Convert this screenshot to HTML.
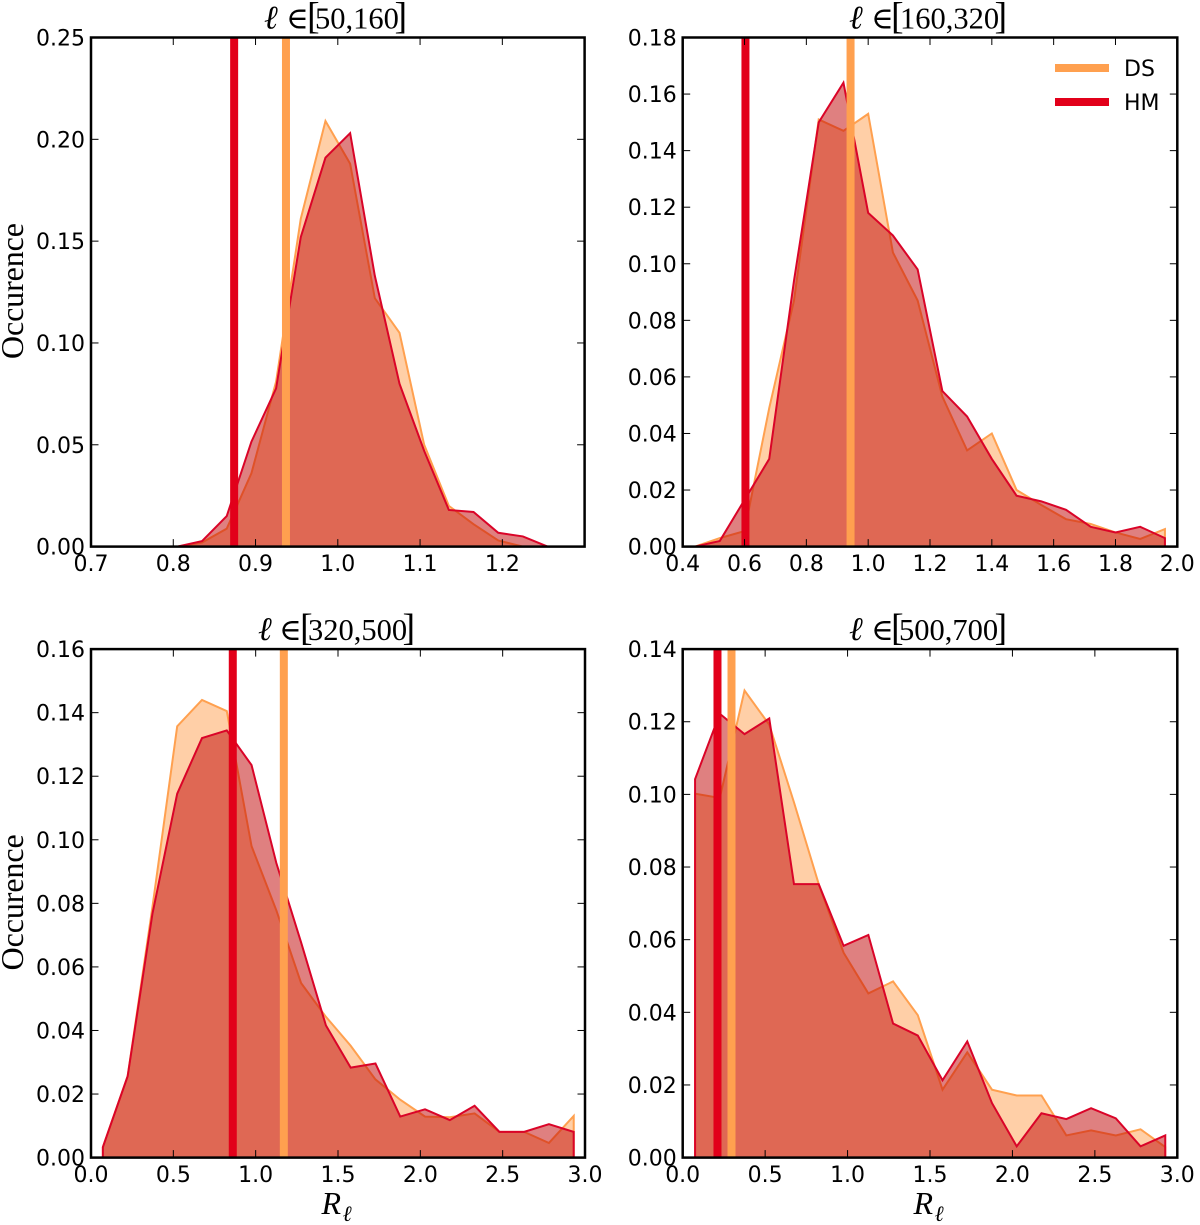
<!DOCTYPE html>
<html>
<head>
<meta charset="utf-8">
<title>Occurence of R by multipole range</title>
<style>
html,body{margin:0;padding:0;background:#fff;}
#figure{display:block;position:absolute;left:0;top:0;}
.tick-label{font-family:"DejaVu Sans","Liberation Sans",sans-serif;font-size:22px;fill:#000;}
.serif{font-family:"Liberation Serif","DejaVu Serif",serif;fill:#000;}
</style>
</head>
<body>
<svg id="figure" xmlns="http://www.w3.org/2000/svg" width="1200" height="1225" viewBox="0 0 1200 1225"></svg>
<script>
// Panel 1: l in [50,160]
const panel1Bins = [0.805,0.835,0.865,0.895,0.925,0.955,0.985,1.015,1.045,1.075,1.105,1.135,1.165,1.195,1.225,1.255];
const panel1DS = [0,0.002,0.0088,0.036,0.081,0.161,0.209,0.188,0.122,0.105,0.050,0.020,0.011,0.003,0,0];
const panel1HM = [0,0.0027,0.015,0.0515,0.0777,0.152,0.191,0.203,0.133,0.080,0.047,0.018,0.017,0.0068,0.005,0];
const panel1XTicks = [0.7,0.8,0.9,1.0,1.1,1.2];
const panel1XLabels = ["0.7","0.8","0.9","1.0","1.1","1.2"];
const panel1YTicks = [0,0.05,0.10,0.15,0.20,0.25];
const panel1YLabels = ["0.00","0.05","0.10","0.15","0.20","0.25"];
const panel1MeanDS = 0.937;
const panel1MeanHM = 0.874;

// Panel 2: l in [160,320]
const panel2Bins = [0.44,0.52,0.60,0.68,0.76,0.84,0.92,1.00,1.08,1.16,1.24,1.32,1.40,1.48,1.56,1.64,1.72,1.80,1.88,1.96];
const panel2DS = [0,0.003,0.0055,0.049,0.087,0.151,0.147,0.153,0.104,0.087,0.053,0.034,0.040,0.020,0.0147,0.0097,0.008,0.005,0.0027,0.0062];
const panel2HM = [0,0.002,0.0165,0.031,0.094,0.150,0.164,0.118,0.110,0.098,0.055,0.046,0.031,0.018,0.016,0.013,0.007,0.005,0.007,0.003];
const panel2XTicks = [0.4,0.6,0.8,1.0,1.2,1.4,1.6,1.8,2.0];
const panel2XLabels = ["0.4","0.6","0.8","1.0","1.2","1.4","1.6","1.8","2.0"];
const panel2YTicks = [0,0.02,0.04,0.06,0.08,0.10,0.12,0.14,0.16,0.18];
const panel2YLabels = ["0.00","0.02","0.04","0.06","0.08","0.10","0.12","0.14","0.16","0.18"];
const panel2MeanDS = 0.943;
const panel2MeanHM = 0.603;

// Panel 3: l in [320,500]
const panel3Bins = [0.072,0.2225,0.373,0.5235,0.674,0.8245,0.975,1.1255,1.276,1.4265,1.577,1.7275,1.878,2.0285,2.179,2.3295,2.48,2.6305,2.781,2.9315];
const panel3DS = [0.0033,0.0256,0.0788,0.1357,0.144,0.1405,0.098,0.0778,0.0549,0.0443,0.0352,0.0246,0.0182,0.0129,0.0127,0.0139,0.0081,0.0081,0.0046,0.0131];
const panel3HM = [0.0033,0.0256,0.0767,0.1145,0.132,0.1344,0.1235,0.0927,0.0677,0.0416,0.0283,0.0296,0.0129,0.0152,0.0118,0.0163,0.0081,0.0081,0.0105,0.0081];
const panel3XTicks = [0,0.5,1.0,1.5,2.0,2.5,3.0];
const panel3XLabels = ["0.0","0.5","1.0","1.5","2.0","2.5","3.0"];
const panel3YTicks = [0,0.02,0.04,0.06,0.08,0.10,0.12,0.14,0.16];
const panel3YLabels = ["0.00","0.02","0.04","0.06","0.08","0.10","0.12","0.14","0.16"];
const panel3MeanDS = 1.171;
const panel3MeanHM = 0.861;

// Panel 4: l in [500,700]
const panel4Bins = [0.075,0.225,0.375,0.525,0.675,0.825,0.976,1.126,1.276,1.426,1.576,1.726,1.876,2.026,2.176,2.327,2.477,2.627,2.777,2.927];
const panel4DS = [0.1002,0.099,0.1286,0.1192,0.0978,0.0753,0.0564,0.0452,0.0485,0.0392,0.0187,0.029,0.0187,0.0171,0.0171,0.0061,0.0075,0.0061,0.0078,0.0029];
const panel4HM = [0.1042,0.1222,0.1166,0.1209,0.0753,0.0753,0.0583,0.0613,0.0369,0.0336,0.0213,0.032,0.015,0.0031,0.0122,0.0106,0.0136,0.0108,0.0031,0.0061];
const panel4XTicks = [0,0.5,1.0,1.5,2.0,2.5,3.0];
const panel4XLabels = ["0.0","0.5","1.0","1.5","2.0","2.5","3.0"];
const panel4YTicks = [0,0.02,0.04,0.06,0.08,0.10,0.12,0.14];
const panel4YLabels = ["0.00","0.02","0.04","0.06","0.08","0.10","0.12","0.14"];
const panel4MeanDS = 0.296;
const panel4MeanHM = 0.211;

const legendNames = ["DS","HM"];

const ORANGE = "#FFA04F";
const RED = "#E2001A";
const RED_EDGE = "#DA0428";
const NS = "http://www.w3.org/2000/svg";
const svg = document.getElementById("figure");

function make(tag, attrs, parent) {
  const el = document.createElementNS(NS, tag);
  for (const k in attrs) el.setAttribute(k, attrs[k]);
  parent.appendChild(el);
  return el;
}

const layouts = [
  {id:1, left:91, right:584.6, top:37.5, bottom:546.6, xMin:0.7, xMax:1.3, yMax:0.25, range:"50,160", tL:264, tIn:286, tB:307, tD:315, tR:394.5, bins:panel1Bins, ds:panel1DS, hm:panel1HM, xt:panel1XTicks, xl:panel1XLabels, yt:panel1YTicks, yl:panel1YLabels, mDS:panel1MeanDS, mHM:panel1MeanHM, ylabel:true, xlabel:false, legend:false},
  {id:2, left:682.7, right:1177.3, top:37.5, bottom:546.6, xMin:0.4, xMax:2.0, yMax:0.18, range:"160,320", tL:849, tIn:871, tB:891, tD:900, tR:994.5, bins:panel2Bins, ds:panel2DS, hm:panel2HM, xt:panel2XTicks, xl:panel2XLabels, yt:panel2YTicks, yl:panel2YLabels, mDS:panel2MeanDS, mHM:panel2MeanHM, ylabel:false, xlabel:false, legend:true},
  {id:3, left:91, right:585, top:649.1, bottom:1157.6, xMin:0, xMax:3, yMax:0.16, range:"320,500", tL:258, tIn:279, tB:300, tD:308, tR:402.5, bins:panel3Bins, ds:panel3DS, hm:panel3HM, xt:panel3XTicks, xl:panel3XLabels, yt:panel3YTicks, yl:panel3YLabels, mDS:panel3MeanDS, mHM:panel3MeanHM, ylabel:true, xlabel:true, legend:false},
  {id:4, left:682.7, right:1177.3, top:649.1, bottom:1157.6, xMin:0, xMax:3, yMax:0.14, range:"500,700", tL:849, tIn:871, tB:891, tD:899, tR:994.5, bins:panel4Bins, ds:panel4DS, hm:panel4HM, xt:panel4XTicks, xl:panel4XLabels, yt:panel4YTicks, yl:panel4YLabels, mDS:panel4MeanDS, mHM:panel4MeanHM, ylabel:false, xlabel:true, legend:false}
];

function areaPoints(bins, vals, sx, sy) {
  const pts = [[sx(bins[0]), sy(0)]];
  for (let i = 0; i < bins.length; i++) pts.push([sx(bins[i]), sy(vals[i])]);
  pts.push([sx(bins[bins.length - 1]), sy(0)]);
  return pts.map(function (p) { return p[0].toFixed(2) + "," + p[1].toFixed(2); }).join(" ");
}

layouts.forEach(function (p) {
  const sx = function (v) { return p.left + (v - p.xMin) / (p.xMax - p.xMin) * (p.right - p.left); };
  const sy = function (v) { return p.bottom - v / p.yMax * (p.bottom - p.top); };

  const g = make("g", {}, svg);
  
  

  const defs = make("defs", {}, g);
  const clip = make("clipPath", {id: "clip" + p.id}, defs);
  make("rect", {x: p.left, y: p.top, width: p.right - p.left, height: p.bottom - p.top}, clip);

  const plot = make("g", {"clip-path": "url(#clip" + p.id + ")"}, g);
  
  

  const dsArea = make("polygon", {points: areaPoints(p.bins, p.ds, sx, sy), fill: ORANGE, "fill-opacity": 0.5, stroke: ORANGE, "stroke-width": 2, "stroke-linejoin": "miter"}, plot);
  
  

  const hmArea = make("polygon", {points: areaPoints(p.bins, p.hm, sx, sy), fill: "#C00202", "fill-opacity": 0.5, stroke: RED_EDGE, "stroke-width": 2, "stroke-linejoin": "miter"}, plot);
  
  

  const dsMean = make("line", {x1: sx(p.mDS), x2: sx(p.mDS), y1: p.top, y2: p.bottom, stroke: ORANGE, "stroke-width": 8}, plot);
  
  

  const hmMean = make("line", {x1: sx(p.mHM), x2: sx(p.mHM), y1: p.top, y2: p.bottom, stroke: RED, "stroke-width": 8}, plot);
  
  

  p.xt.forEach(function (v, i) {
    const x = sx(v);
    const t1 = make("line", {x1: x, x2: x, y1: p.bottom, y2: p.bottom - 7.5, stroke: "#000", "stroke-width": 1}, g);
    
    
    const t2 = make("line", {x1: x, x2: x, y1: p.top, y2: p.top + 7.5, stroke: "#000", "stroke-width": 1}, g);
    
    
    const lab = make("text", {x: x, y: p.bottom + 24.5, "text-anchor": "middle", class: "tick-label"}, g);
    lab.textContent = p.xl[i];
    
    
  });

  p.yt.forEach(function (v, i) {
    const y = sy(v);
    const t1 = make("line", {x1: p.left, x2: p.left + 7.5, y1: y, y2: y, stroke: "#000", "stroke-width": 1}, g);
    
    
    const t2 = make("line", {x1: p.right, x2: p.right - 7.5, y1: y, y2: y, stroke: "#000", "stroke-width": 1}, g);
    
    
    const lab = make("text", {x: p.left - 6, y: y + 8, "text-anchor": "end", class: "tick-label"}, g);
    lab.textContent = p.yl[i];
    
    
  });

  const frame = make("rect", {x: p.left, y: p.top, width: p.right - p.left, height: p.bottom - p.top, fill: "none", stroke: "#000", "stroke-width": 2.5}, g);
  
  

  const titleY = p.top - 9;
  const title = make("text", {y: titleY, class: "serif", "font-size": 30.5}, g);
  
  
  const ell = make("tspan", {x: p.tL, "font-size": 33, "font-style": "italic"}, title);
  ell.textContent = "ℓ";
  const elem = make("tspan", {x: p.tIn}, title);
  elem.textContent = "∈";
  const openB = make("tspan", {x: p.tB, "font-size": 38}, title);
  openB.textContent = "[";
  const digits = make("tspan", {x: p.tD}, title);
  digits.textContent = p.range;
  const closeB = make("tspan", {x: p.tR, "font-size": 38}, title);
  closeB.textContent = "]";

  if (p.ylabel) {
    const cy = (p.top + p.bottom) / 2;
    const yl = make("text", {x: 0, y: 0, transform: "translate(23," + (cy - 1) + ") rotate(-90)", "text-anchor": "middle", class: "serif", "font-size": 32, textLength: 136, lengthAdjust: "spacing"}, g);
    yl.textContent = "Occurence";
    
    
  }

  if (p.xlabel) {
    const cx = (p.left + p.right) / 2 - 0.5;
    const xlab = make("text", {x: cx - 16, y: 1214, class: "serif", "font-size": 32, "font-style": "italic"}, g);
    xlab.textContent = "R";
    
    
    const xsub = make("text", {x: cx + 5, y: 1221, class: "serif", "font-size": 22, "font-style": "italic"}, g);
    xsub.textContent = "ℓ";
    
    
  }

  if (p.legend) {
    const legend = make("g", {}, g);
    
    
    const colors = [ORANGE, RED];
    const ys = [68, 102];
    legendNames.forEach(function (name, i) {
      const sw = make("line", {x1: 1055, x2: 1109, y1: ys[i], y2: ys[i], stroke: colors[i], "stroke-width": 8}, legend);
      
      
      const tx = make("text", {x: 1124, y: ys[i] + 8, class: "tick-label"}, legend);
      tx.textContent = name;
      
      
    });
  }
});
</script>
</body>
</html>
